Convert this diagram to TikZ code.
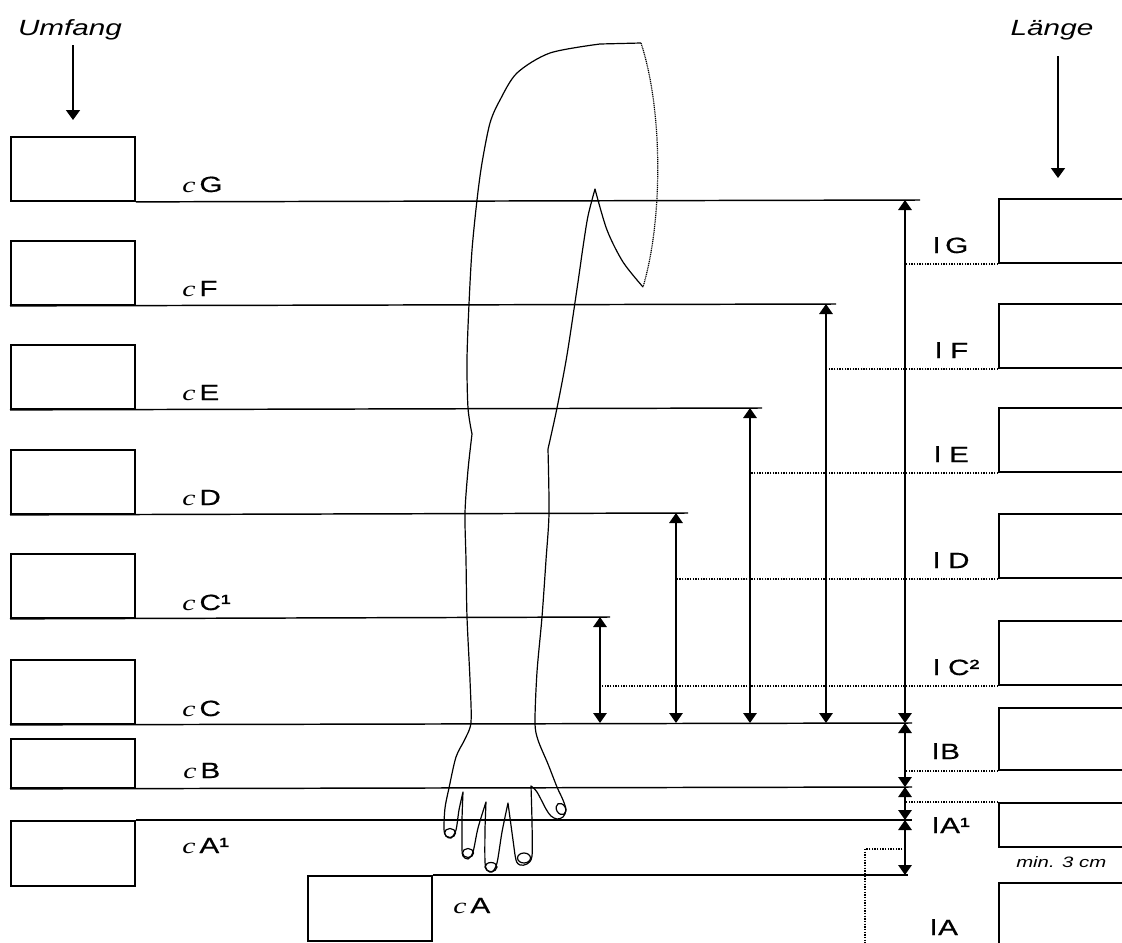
\documentclass[tikz,border=0pt]{standalone}
\usepackage{fontspec}
\setmainfont{Liberation Sans}[FakeStretch=1.35,FakeBold=0.6]
\newfontfamily\serifc{Liberation Serif}[FakeStretch=1.35]
\newfontfamily\headfont{Liberation Sans}[FakeStretch=1.35]
\usetikzlibrary{arrows.meta,positioning}
\newcommand{\cpre}{{\serifc\itshape c}\kern3pt}

\begin{document}
\begin{tikzpicture}[x=0.75pt,y=-0.75pt]
\tikzstyle{field}=[rectangle, draw=black, line width=1.4pt, inner sep=0pt,
	minimum width=93pt, minimum height=48pt, anchor=north west]
\tikzstyle{rfield}=[field, minimum width=97.5pt]
\tikzstyle{clabel}=[anchor=base west, inner sep=0pt, font=\fontsize{16.5}{19}\selectfont]
\tikzstyle{head}=[anchor=base, inner sep=0pt, font=\headfont\itshape\fontsize{16.5}{19}\selectfont]
\tikzstyle{note}=[anchor=base west, inner sep=0pt, font=\headfont\itshape\fontsize{11.3}{14}\selectfont]
\tikzstyle{pointer}=[line width=1.3pt, -{Triangle[width=10.5pt,length=7.5pt]}]
\tikzstyle{level}=[line width=1.1pt]
\tikzstyle{dim}=[line width=1.5pt, {Triangle[width=10pt,length=7.5pt]}-{Triangle[width=10pt,length=7.5pt]}]
\tikzstyle{lead}=[line width=1.2pt, dash pattern=on 1pt off 1pt]
\tikzstyle{arm}=[line width=0.9pt, line join=round]
\tikzstyle{armdot}=[arm, dash pattern=on 0.8pt off 0.6pt]
\useasboundingbox (0,0) rectangle (1122,943);
\clip (0,0) rectangle (1122,943);

% headings
\node[head] (umfang) at (70,35) {Umfang};
\node[head] (laenge) at (1052,35) {Länge};
\coordinate (uTail) at (73,45);
\coordinate (uTip) at (73,120);
\coordinate (lTail) at (1058,56);
\coordinate (lTip) at (1058,178);
\draw[pointer] (uTail) -- (uTip);
\draw[pointer] (lTail) -- (lTip);

% Umfang fields
\node[field] (uG) at (10,136) {};
\node[field] (uF) at (10,240) {};
\node[field] (uE) at (10,344) {};
\node[field] (uD) at (10,449) {};
\node[field] (uC1) at (10,553) {};
\node[field] (uC) at (10,659) {};
\node[field, minimum height=36.75pt] (uB) at (10,738) {};
\node[field, minimum height=48.75pt] (uA1) at (10,820) {};
\node[field, minimum height=48.75pt] (uA) at (307,875) {};

% Laenge fields
\node[rfield] (lG) at (998,198) {};
\node[rfield] (lF) at (998,303) {};
\node[rfield] (lE) at (998,407) {};
\node[rfield] (lD) at (998,513) {};
\node[rfield] (lC2) at (998,620) {};
\node[rfield, minimum height=46.5pt] (lB) at (998,707) {};
\node[rfield, minimum height=33pt] (lA1) at (998,802) {};
\node[rfield] (lA) at (998,882) {};

% measuring levels
\coordinate (eG) at (920,200);
\coordinate (eF) at (836,304);
\coordinate (eE) at (762,408);
\coordinate (eD) at (688,513);
\coordinate (eC1) at (610,617);
\coordinate (eC) at (912,723);
\coordinate (eB) at (912,787);
\coordinate (eA1) at (912,820);
\coordinate (eA) at (908,875);
\draw[level] (uG.south east) -- (eG);
\draw[level] (uF.south west) -- (eF);
\draw[level] (uE.south west) -- (eE);
\draw[level] (uD.south west) -- (eD);
\draw[level] (uC1.south west) -- (eC1);
\draw[level] (uC.south west) -- (eC);
\draw[level] (uB.south west) -- (eB);
\draw[level] (uA1.north east) -- (eA1);
\draw[level] (uA.north east) -- (eA);

% lengths
\coordinate (aG) at (905,200);
\coordinate (aF) at (826,304);
\coordinate (aE) at (750,408);
\coordinate (aD) at (676,513);
\coordinate (aC1) at (600,617);
\draw[dim] (aG) -- (aG |- eC);
\draw[dim] (aF) -- (aF |- eC);
\draw[dim] (aE) -- (aE |- eC);
\draw[dim] (aD) -- (aD |- eC);
\draw[dim] (aC1) -- (aC1 |- eC);
\draw[dim] (aG |- eC) -- (aG |- eB);
\draw[dim] (aG |- eB) -- (aG |- eA1);
\draw[dim] (aG |- eA1) -- (aG |- eA);

\draw[lead] (lG.south west) -- (lG.south west -| aG);
\draw[lead] (lF.south west) -- (lF.south west -| aF);
\draw[lead] (lE.south west) -- (lE.south west -| aE);
\draw[lead] (lD.south west) -- (lD.south west -| aD);
\draw[lead] (lC2.south west) -- (lC2.south west -| aC1);
\draw[lead] (lB.south west) -- (lB.south west -| aG);
\draw[lead] (lA1.north west) -- (lA1.north west -| aG);
\coordinate (dA) at (865,849);
\draw[lead] (dA -| aG) -- (dA) -- (dA |- lA.south);

% labels
\node[clabel] (cG) at (182,192) {\cpre G};
\node[clabel] (cF) at (182,296) {\cpre F};
\node[clabel] (cE) at (182,400) {\cpre E};
\node[clabel] (cD) at (182,505) {\cpre D};
\node[clabel] (cC1) at (182,610) {\cpre C¹};
\node[clabel] (cC) at (182,716) {\cpre C};
\node[clabel] (cB) at (183,778) {\cpre B};
\node[clabel] (cA1) at (182,853) {\cpre A¹};
\node[clabel] (cA) at (453,913) {\cpre A};
\node[clabel] (tG) at (933,253) {l\kern4pt G};
\node[clabel] (tF) at (935,358) {l F};
\node[clabel] (tE) at (934,462) {l E};
\node[clabel] (tD) at (933,568) {l D};
\node[clabel] (tC2) at (933,675) {l C²};
\node[clabel] (tB) at (932,759) {l\kern1pt B};
\node[clabel] (tA1) at (932,833) {l\kern1pt A¹};
\node[clabel] (tA) at (930,935) {l\kern1pt A};
\node[note] (min) at (1016,867) {min. 3 cm};

% arm
\draw[arm] plot[smooth] coordinates {(643,287) (623,262) (607,230) (595,189)}
 -- plot[smooth] coordinates {(595,189) (588,216) (583,247) (578,282) (567,355) (557,408) (548,449)}
 -- plot[smooth] coordinates {(548,449) (549,513) (546,560) (542,617) (537,672) (535,722)
    (538,740) (548,764) (557,787) (563,800) (566,810) (563,817) (557,819) (551,816) (546,809) (537,792) (531,786)}
 -- plot[smooth] coordinates {(531,786) (532,822) (532,856) (527,864) (520,865) (516,860) (513,840) (508,803)}
 -- plot[smooth] coordinates {(508,803) (502,832) (497,863) (492,872) (487,870) (485,862) (485,830) (486,802)}
 -- plot[smooth] coordinates {(486,802) (478,828) (473,852) (468,859) (463,856) (462,848) (462,820) (463,792)}
 -- plot[smooth] coordinates {(463,792) (459,810) (456,830) (451,838) (446,836) (444,829) (445,808)
    (449,788) (456,757) (465,739) (471,722) (470,680) (467,617) (466,560) (465,513) (468,470) (472,434)}
 -- plot[smooth] coordinates {(472,434) (468,408) (467,360) (469,304) (472,250) (477,200) (482,163)
    (490,123) (500,100) (517,73) (550,53) (600,44)}
 -- (641,43);
\draw[armdot] (641,43) .. controls (663,110) and (663,220) .. (643,287);
\draw[arm] (450,833) ellipse [x radius=5.5, y radius=4.5];
\draw[arm] (468,853) ellipse [x radius=5.5, y radius=4.5];
\draw[arm] (491,867) ellipse [x radius=6, y radius=4.5];
\draw[arm] (524,858) ellipse [x radius=6.5, y radius=5];
\draw[arm, rotate around={-60:(561,809)}] (561,809) ellipse [x radius=6, y radius=4.5];
\end{tikzpicture}
\end{document}
